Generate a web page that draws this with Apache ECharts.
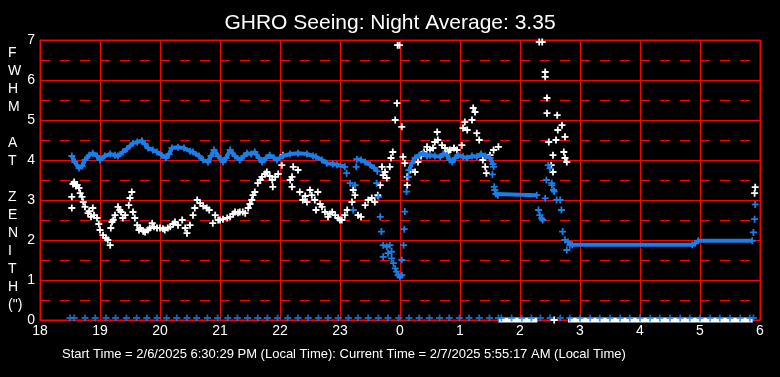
<!DOCTYPE html>
<html>
<head>
<meta charset="utf-8">
<script src="https://cdn.jsdelivr.net/npm/echarts@6/dist/echarts.min.js"></script>
<style>
  html, body { margin: 0; padding: 0; background: #000; }
  #seeing-chart { width: 780px; height: 377px; }
</style>
</head>
<body>
<div id="seeing-chart"></div>
<script>
// 坐标轴标签
const xLabels = ['18', '19', '20', '21', '22', '23', '0', '1', '2', '3', '4', '5', '6'];
const yLabels = ['0', '1', '2', '3', '4', '5', '6', '7'];
const titleText = 'GHRO Seeing: Night Average: 3.35';
const footText = 'Start Time = 2/6/2025 6:30:29 PM (Local Time): Current Time = 2/7/2025 5:55:17 AM (Local Time)';
const yName = ['F', 'W', 'H', 'M', '', 'A', 'T', '', 'Z', 'E', 'N', 'I', 'T', 'H', '(")'];

// 蓝色（平均）曲线, 小时 18..30, null 断开
const blueTrend = [
  [18.53, 4.1], [18.58, 3.95], [18.65, 3.8], [18.7, 3.85], [18.75, 4.0], [18.82, 4.12], [18.88, 4.17],
  [18.95, 4.1], [19.0, 4.0], [19.08, 4.1], [19.17, 4.15], [19.25, 4.12], [19.3, 4.1], [19.38, 4.2],
  [19.45, 4.28], [19.55, 4.42], [19.62, 4.45], [19.7, 4.48], [19.75, 4.4], [19.8, 4.3], [19.88, 4.25],
  [19.95, 4.2], [20.03, 4.12], [20.1, 4.05], [20.15, 4.15], [20.2, 4.3], [20.3, 4.32], [20.4, 4.3],
  [20.5, 4.22], [20.55, 4.2], [20.65, 4.1], [20.72, 4.0], [20.8, 3.95], [20.85, 4.1], [20.9, 4.25],
  [20.97, 4.1], [21.05, 3.95], [21.1, 4.05], [21.17, 4.25], [21.25, 4.1], [21.33, 4.0], [21.4, 4.1],
  [21.45, 4.17], [21.52, 4.15], [21.58, 4.2], [21.65, 4.05], [21.7, 3.95], [21.77, 4.05], [21.83, 4.12],
  [21.9, 4.05], [21.95, 4.0], [22.05, 4.1], [22.17, 4.15], [22.3, 4.17], [22.45, 4.15], [22.55, 4.1],
  [22.6, 4.08], [22.7, 4.0], [22.78, 3.92], [22.88, 3.9], [22.95, 3.88], [23.08, 3.83],
  null,
  [23.28, 4.02], [23.35, 4.0], [23.42, 3.95], [23.5, 3.88], [23.57, 3.8], [23.62, 3.72],
  null,
  [24.15, 3.75], [24.2, 3.92], [24.25, 4.05], [24.32, 4.12], [24.38, 4.17], [24.45, 4.1], [24.5, 4.12],
  [24.58, 4.1], [24.67, 4.08], [24.72, 4.15], [24.78, 4.12], [24.83, 4.0], [24.87, 3.95], [24.92, 4.05],
  [24.97, 4.12], [25.05, 4.08], [25.12, 4.05], [25.2, 4.1], [25.28, 4.08], [25.35, 4.15], [25.42, 4.1],
  [25.5, 4.05], [25.55, 3.9],
  null,
  [25.6, 3.15], [25.63, 3.12], [26.28, 3.12],
  null,
  [26.8, 1.95], [26.87, 1.88], [28.87, 1.88], [28.92, 1.92], [28.97, 1.98], [29.87, 1.98]
];

// 蓝色零散点
const blueSparse = [
  [23.11, 3.67], [23.17, 3.42], [23.25, 3.37], [23.22, 2.75], [23.27, 3.83], [23.61, 3.42], [23.64, 3.08],
  [23.67, 2.58], [23.69, 2.21], [23.72, 1.87], [23.72, 1.58], [23.78, 1.83], [23.8, 1.67], [23.83, 1.87],
  [23.86, 1.71], [23.86, 1.54], [23.89, 1.42], [23.92, 1.29], [23.94, 1.21], [23.97, 1.12], [24.0, 1.08],
  [24.03, 1.12], [24.03, 1.5], [24.06, 1.87], [24.07, 2.27], [24.08, 2.71], [24.11, 3.21], [24.14, 3.58],
  [25.54, 3.64], [25.56, 3.83], [25.57, 3.33], [25.58, 3.25],
  [26.31, 2.75], [26.33, 2.62], [26.36, 2.54], [26.38, 2.5], [26.42, 3.04], [26.44, 3.5], [26.47, 3.87],
  [26.5, 3.79], [26.53, 3.37], [26.53, 3.42], [26.56, 3.25], [26.57, 3.21], [26.61, 3.0], [26.67, 3.0],
  [26.69, 2.75], [26.71, 2.21], [26.75, 2.0], [26.78, 1.75], [26.83, 1.87],
  [29.89, 2.19], [29.91, 2.52], [29.92, 2.89]
];

// 白色（单次测量）点
const whitePoints = [
  [18.53, 2.8], [18.53, 3.08], [18.55, 3.4], [18.57, 3.45], [18.6, 3.35], [18.62, 3.38], [18.65, 3.3],
  [18.67, 3.17], [18.7, 3.08], [18.72, 2.95], [18.75, 2.83], [18.8, 2.67], [18.82, 2.72], [18.85, 2.58],
  [18.88, 2.8], [18.9, 2.62], [18.95, 2.55], [18.98, 2.4], [19.0, 2.25], [19.05, 2.12], [19.1, 2.05],
  [19.13, 2.0], [19.17, 1.87], [19.18, 2.3], [19.2, 2.45], [19.22, 2.5], [19.25, 2.62], [19.3, 2.83],
  [19.33, 2.75], [19.35, 2.7], [19.38, 2.55], [19.42, 2.62], [19.5, 3.05], [19.53, 3.2], [19.48, 2.87],
  [19.55, 2.7], [19.58, 2.55], [19.62, 2.37], [19.65, 2.25], [19.67, 2.3], [19.72, 2.22], [19.75, 2.2],
  [19.8, 2.25], [19.83, 2.3], [19.87, 2.42], [19.9, 2.33], [19.95, 2.3], [20.0, 2.3], [20.05, 2.28],
  [20.08, 2.25], [20.13, 2.3], [20.17, 2.33], [20.22, 2.4], [20.25, 2.45], [20.3, 2.37], [20.37, 2.5],
  [20.42, 2.3], [20.45, 2.17], [20.5, 2.37], [20.55, 2.62], [20.58, 2.8], [20.62, 3.0], [20.67, 2.92],
  [20.72, 2.85], [20.78, 2.8], [20.82, 2.75], [20.88, 2.42], [20.92, 2.62], [20.97, 2.5], [21.0, 2.5],
  [21.05, 2.52], [21.12, 2.55], [21.17, 2.58], [21.22, 2.65], [21.25, 2.7], [21.3, 2.68], [21.33, 2.7],
  [21.38, 2.7], [21.42, 2.67], [21.47, 2.8], [21.5, 2.9], [21.53, 3.0], [21.55, 3.12], [21.58, 3.2],
  [21.63, 3.42], [21.67, 3.5], [21.7, 3.58], [21.75, 3.65], [21.78, 3.7], [21.83, 3.6], [21.87, 3.5],
  [21.88, 3.33], [21.92, 3.58], [21.97, 3.65], [22.03, 3.87], [22.05, 4.12], [22.17, 3.5], [22.2, 3.33],
  [22.2, 3.58], [22.22, 3.83], [22.3, 3.75], [22.33, 3.2], [22.38, 3.0], [22.42, 3.1], [22.45, 2.95],
  [22.5, 3.25], [22.53, 3.12], [22.58, 3.0], [22.63, 3.2], [22.6, 2.75], [22.67, 2.9], [22.7, 2.83],
  [22.75, 2.7], [22.8, 2.58], [22.83, 2.65], [22.87, 2.7], [22.92, 2.62], [22.97, 2.55], [23.0, 2.5],
  [23.03, 2.5], [23.08, 2.62], [23.12, 2.75], [23.2, 2.95], [23.22, 3.25], [23.25, 3.12], [23.3, 2.62],
  [23.35, 2.58], [23.42, 2.87], [23.47, 3.0], [23.53, 3.05], [23.58, 2.95], [23.63, 3.12], [23.67, 3.37],
  [23.7, 3.83], [23.72, 3.62], [23.75, 3.7], [23.78, 3.55], [23.83, 3.83], [23.85, 4.05], [23.88, 4.2],
  [23.92, 5.0], [23.95, 5.42], [23.96, 6.87], [23.99, 6.87], [24.03, 4.83], [24.05, 4.08], [24.08, 3.92],
  [24.12, 3.37], [24.12, 3.58], [24.17, 3.75], [24.25, 3.7], [24.3, 3.95], [24.35, 4.1], [24.4, 4.2],
  [24.45, 4.33], [24.5, 4.25], [24.55, 4.3], [24.58, 4.45], [24.62, 4.7], [24.63, 4.5], [24.7, 4.37],
  [24.75, 4.3], [24.8, 4.2], [24.83, 4.25], [24.9, 4.3], [24.95, 4.25], [25.03, 4.37], [25.05, 4.8],
  [25.08, 4.95], [25.12, 4.75], [25.2, 5.0], [25.22, 5.3], [25.25, 5.2], [25.28, 4.67], [25.32, 4.5],
  [25.38, 4.0], [25.42, 3.83], [25.44, 3.67], [25.5, 4.12], [25.56, 4.25], [25.64, 4.33],
  [26.32, 6.95], [26.37, 6.95], [26.42, 6.2], [26.42, 6.08], [26.45, 5.55], [26.45, 5.17], [26.48, 4.45],
  [26.52, 3.87], [26.55, 4.12], [26.55, 3.7], [26.6, 4.5], [26.62, 5.12], [26.63, 4.75], [26.7, 4.87],
  [26.73, 4.2], [26.75, 4.58], [26.75, 4.05], [26.78, 3.95],
  [29.91, 3.17], [29.92, 3.32],
  [26.57, 0]
];

// 零值行：蓝色点的时间
const zeroTimes = [
  18.5, 18.57, 18.75, 18.92, 19.1, 19.26, 19.44, 19.61, 19.78, 19.95, 20.11, 20.28, 20.45, 20.61, 20.79,
  20.96, 21.13, 21.29, 21.46, 21.63, 21.79, 21.96, 22.13, 22.3, 22.47, 22.64, 22.8, 22.97, 23.14, 23.3,
  23.47, 23.64, 23.8, 23.98, 24.15, 24.32, 24.49, 24.66, 24.82, 24.99, 25.15, 25.32, 25.49, 25.64,
  25.69, 25.86, 26.03, 26.19, 26.34, 26.5, 26.67, 26.83, 27.0, 27.17, 27.33, 27.5, 27.67, 27.83, 28.0,
  28.17, 28.33, 28.5, 28.67, 28.83, 29.0, 29.17, 29.33, 29.5, 29.67, 29.83, 29.89
];
// 零值行：白色密集段
const whiteZeroSpans = [[25.64, 0], [26.29, 0], null, [26.8, 0], [29.88, 0]];

// 加号符号，臂宽 1.8
const plusPath = 'path://M2.6,0H4.4V2.6H7V4.4H4.4V7H2.6V4.4H0V2.6H2.6Z';
const blue = '#1c7ee6';
const red = '#ff0000';
const font = 'Arial, "Liberation Sans", sans-serif';

const chart = echarts.init(document.getElementById('seeing-chart'), null, {renderer: 'canvas'});

const option = {
  backgroundColor: '#000',
  animation: false,
  title: {
    text: titleText,
    left: 'center',
    top: 8,
    textStyle: {color: '#fff', fontSize: 21, fontWeight: 'normal', fontFamily: font}
  },
  grid: {
    left: 40, right: 20, top: 40, bottom: 57,
    show: true,
    borderColor: red,
    borderWidth: 1,
    backgroundColor: 'transparent'
  },
  xAxis: {
    type: 'value',
    min: 18,
    max: 30,
    interval: 1,
    axisLine: {lineStyle: {color: red, width: 1}},
    axisTick: {show: false},
    axisLabel: {
      color: '#fff', fontSize: 14, fontFamily: font, margin: 4,
      formatter: function (v) { return xLabels[Math.round(v - 18)]; }
    },
    splitLine: {show: true, lineStyle: {color: red, width: 1}}
  },
  yAxis: {
    type: 'value',
    min: 0,
    max: 7,
    interval: 1,
    axisLine: {show: true, lineStyle: {color: red, width: 1}},
    axisTick: {show: false},
    axisLabel: {
      color: '#fff', fontSize: 14, fontFamily: font, margin: 5,
      formatter: function (v) { return yLabels[Math.round(v)]; }
    },
    splitLine: {show: true, lineStyle: {color: red, width: 1}},
    minorTick: {show: false, splitNumber: 2},
    minorSplitLine: {show: true, lineStyle: {color: red, width: 1, type: [10, 10], dashOffset: 0}}
  },
  graphic: [
    {
      type: 'text',
      left: 8,
      top: 44,
      style: {
        text: yName.join('\n'),
        fill: '#fff',
        font: '14px ' + font,
        lineHeight: 18,
        align: 'center'
      }
    },
    {
      type: 'text',
      left: 62,
      top: 348,
      style: {
        text: footText,
        fill: '#fff',
        font: '13px ' + font
      }
    }
  ],
  series: [
    {
      name: 'zeroBand',
      type: 'line',
      data: whiteZeroSpans,
      symbol: 'none',
      clip: false,
      lineStyle: {color: '#fff', width: 5},
      z: 3
    },
    {
      name: 'zeroBlue',
      type: 'scatter',
      data: zeroTimes.map(function (t) { return [t, 0]; }),
      symbol: plusPath,
      symbolSize: 7,
      symbolOffset: [0, -2],
      clip: false,
      itemStyle: {color: blue},
      z: 4
    },
    {
      name: 'white',
      type: 'scatter',
      data: whitePoints,
      symbol: plusPath,
      symbolSize: 7,
      itemStyle: {color: '#fff', opacity: 1},
      z: 5
    },
    {
      name: 'blueSparse',
      type: 'scatter',
      data: blueSparse,
      symbol: plusPath,
      symbolSize: 7,
      itemStyle: {color: blue, opacity: 1},
      z: 6
    },
    {
      name: 'blueTrend',
      type: 'line',
      data: blueTrend,
      connectNulls: false,
      symbol: plusPath,
      symbolSize: 7,
      showSymbol: true,
      itemStyle: {color: blue, opacity: 1},
      lineStyle: {color: blue, width: 4},
      z: 7
    }
  ]
};

chart.setOption(option);
</script>
</body>
</html>
